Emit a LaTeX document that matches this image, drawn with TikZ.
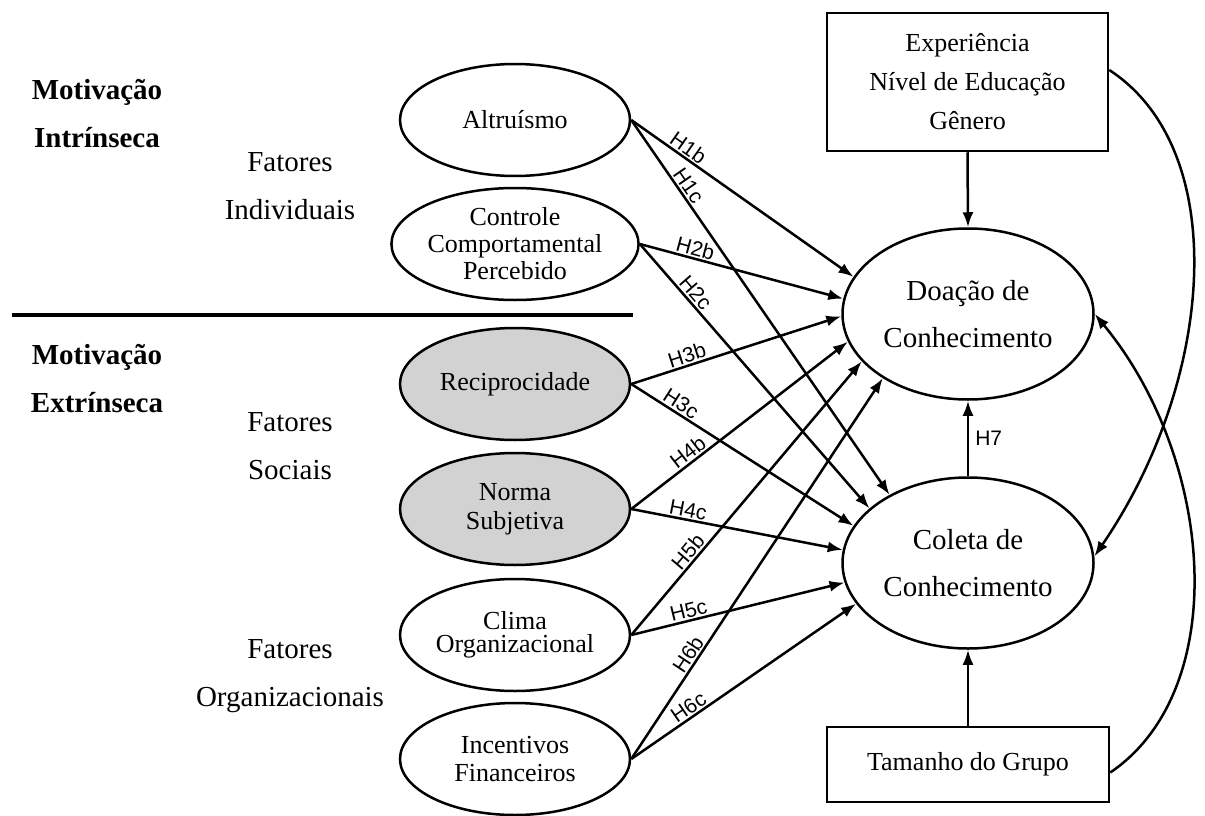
\documentclass[tikz,border=0pt]{standalone}
\usepackage{fontspec}
\setmainfont{Liberation Serif}
\newfontfamily\hlabelfont{Liberation Sans}
\usetikzlibrary{shapes.geometric,arrows.meta}

\begin{document}
\begin{tikzpicture}[x=1pt,y=-1pt,
  every node/.style={inner sep=0pt},
  factor/.style={ellipse, draw, line width=2.5pt, minimum width=230pt, minimum height=112pt,
    align=center, font=\fontsize{26}{27}\selectfont},
  social/.style={factor, fill=gray!35},
  outcome/.style={ellipse, draw, line width=2.5pt, minimum width=251pt, minimum height=171pt,
    align=center, font=\fontsize{29}{47}\selectfont},
  ctrlbox/.style={draw, line width=2.5pt, align=center},
  hyp/.style={-{Latex[length=15pt,width=11pt]}, line width=2.5pt},
  hlab/.style={font=\hlabelfont\fontsize{21}{21}\selectfont, sloped, above, inner sep=1.5pt},
  side/.style={font=\fontsize{29}{48}\selectfont, align=center},
  group/.style={font=\bfseries\fontsize{29}{48}\selectfont, align=center}
]
\useasboundingbox (0,0) rectangle (1205,816);

% motivation groups and factor groups
\node[group] (intr) at (97,114) {Motiva\c{c}\~ao\\Intr\'inseca};
\node[group] (extr) at (97,379) {Motiva\c{c}\~ao\\Extr\'inseca};
\node[side] (indiv) at (290,186) {Fatores\\Individuais};
\node[side] (soc) at (290,446) {Fatores\\Sociais};
\node[side] (org) at (290,676) {Fatores\\Organizacionais};

% divider between intrinsic and extrinsic motivation
\coordinate (divL) at (12,315);
\coordinate (divR) at (633,315);
\draw[line width=4.5pt] (divL) -- (divR);

% antecedents
\node[factor] (alt) at (515,120) {Altru\'ismo};
\node[factor] (ccp) at (515,244) {Controle\\Comportamental\\Percebido};
\node[social] (rec) at (515,384) {Reciprocidade};
\node[social, font=\fontsize{26}{29}\selectfont] (nor) at (515,509) {Norma\\Subjetiva};
\node[factor, font=\fontsize{26}{23}\selectfont] (cli) at (515,635) {Clima\\Organizacional};
\node[factor, font=\fontsize{26}{28}\selectfont] (inc) at (515,759) {Incentivos\\Financeiros};

% outcomes
\node[outcome] (doa) at (968,314) {Doa\c{c}\~ao de\\Conhecimento};
\node[outcome] (col) at (968,563) {Coleta de\\Conhecimento};

% control variables
\node[ctrlbox, minimum width=281pt, minimum height=138pt, font=\fontsize{26}{39}\selectfont]
  (ctrl) at (967.5,82) {Experi\^encia\\N\'ivel de Educa\c{c}\~ao\\G\^enero};
\node[ctrlbox, minimum width=282pt, minimum height=75pt, font=\fontsize{26}{30}\selectfont]
  (grp) at (968,764.5) {Tamanho do Grupo};

% hypotheses towards knowledge donating
\draw[hyp] (alt.east) -- node[hlab,pos=0.23]{H1b} (doa.162);
\draw[hyp] (ccp.east) -- node[hlab,pos=0.26]{H2b} (doa.173);
\draw[hyp] (rec.east) -- node[hlab,pos=0.28]{H3b} (doa.181);
\draw[hyp] (nor.east) -- node[hlab,pos=0.29]{H4b} (doa.193);
\draw[hyp] (cli.east) -- node[hlab,pos=0.28]{H5b} (doa.204);
\draw[hyp] (inc.east) -- node[hlab,pos=0.26]{H6b} (doa.217);

% hypotheses towards knowledge collecting
\draw[hyp] (alt.east) -- node[hlab,pos=0.19]{H1c} (col.139);
\draw[hyp] (ccp.east) -- node[hlab,pos=0.21]{H2c} (col.151);
\draw[hyp] (rec.east) -- node[hlab,pos=0.20]{H3c} (col.162);
\draw[hyp] (nor.east) -- node[hlab,pos=0.26]{H4c} (col.174);
\draw[hyp] (cli.east) -- node[hlab,pos=0.28]{H5c} (col.189);
\draw[hyp] (inc.east) -- node[hlab,pos=0.28]{H6c} (col.200);

% collecting -> donating
\draw[hyp] (col.north) -- node[right, xshift=6pt, font=\hlabelfont\fontsize{21}{21}\selectfont]{H7} (doa.south);

% control effects
\draw[hyp] (ctrl.south) -- (doa.north);
\draw[hyp] (grp.north) -- (col.south);
\draw[hyp] ([yshift=12pt]ctrl.east) .. controls (1232,150) and (1215,380) .. (col.3);
\draw[hyp] ([yshift=-8pt]grp.east) .. controls (1232,690) and (1215,460) .. (doa.east);
\end{tikzpicture}
\end{document}
